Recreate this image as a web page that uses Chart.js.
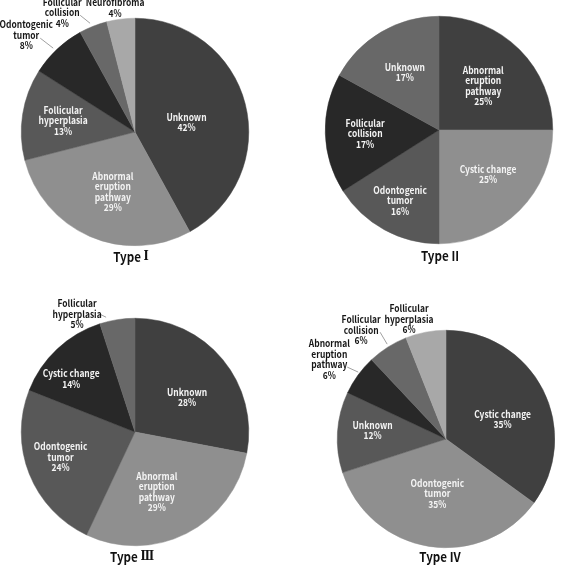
<!DOCTYPE html>
<html>
<head>
<meta charset="utf-8">
<script src="https://cdn.jsdelivr.net/npm/chart.js@4"></script>
<style>
  html, body { margin: 0; padding: 0; background: #fff; }
  body { width: 565px; height: 574px; position: relative; overflow: hidden; }
  .box { position: absolute; }
</style>
</head>
<body>
<div class="box" style="left:0;top:0;width:280px;height:287px"><canvas id="pie1"></canvas></div>
<div class="box" style="left:282px;top:0;width:283px;height:287px"><canvas id="pie2"></canvas></div>
<div class="box" style="left:0;top:287px;width:280px;height:287px"><canvas id="pie3"></canvas></div>
<div class="box" style="left:282px;top:287px;width:283px;height:287px"><canvas id="pie4"></canvas></div>
<script>
// --- data ---
const titles = ['Type \u2160', 'Type II', 'Type \u2162', 'Type IV'];

const labels1 = ['Unknown', 'Abnormal eruption pathway', 'Follicular hyperplasia', 'Odontogenic tumor', 'Follicular collision', 'Neurofibroma'];
const values1 = [42, 29, 13, 8, 4, 4];

const labels2 = ['Abnormal eruption pathway', 'Cystic change', 'Odontogenic tumor', 'Follicular collision', 'Unknown'];
const values2 = [25, 25, 16, 17, 17];

const labels3 = ['Unknown', 'Abnormal eruption pathway', 'Odontogenic tumor', 'Cystic change', 'Follicular hyperplasia'];
const values3 = [28, 29, 24, 14, 5];

const labels4 = ['Cystic change', 'Odontogenic tumor', 'Unknown', 'Abnormal eruption pathway', 'Follicular collision', 'Follicular hyperplasia'];
const values4 = [35, 35, 12, 6, 6, 6];

// line breaks used for the slice labels
const wrap = {
  'Abnormal eruption pathway': ['Abnormal', 'eruption', 'pathway'],
  'Follicular hyperplasia': ['Follicular', 'hyperplasia'],
  'Odontogenic tumor': ['Odontogenic', 'tumor'],
  'Follicular collision': ['Follicular', 'collision'],
  'Cystic change': ['Cystic change'],
  'Unknown': ['Unknown'],
  'Neurofibroma': ['Neurofibroma']
};

const palette = ['#404040', '#8f8f8f', '#585858', '#282828', '#686868', '#a8a8a8'];

// label placement: inside -> {r: radius fraction, da: angle shift in degrees}
// outside -> {x, y} in radius units from the centre, optional leader [x1, y1, x2, y2]
const layout1 = [
  { r: 0.46, da: 4 }, { r: 0.56, da: -3 }, { r: 0.64, da: 0 },
  { x: -0.956, y: -0.851, leader: [-0.833, -0.825, -0.719, -0.737] },
  { x: -0.64, y: -1.048, leader: [-0.482, -1.026, -0.395, -0.956] },
  { x: -0.175, y: -1.092 }
];
const layout2 = [
  { r: 0.55, da: 0 }, { r: 0.58, da: -3 }, { r: 0.71, da: 0 }, { r: 0.65, da: -1 }, { r: 0.59, da: 0 }
];
const layout3 = [
  { r: 0.55, da: 6 }, { r: 0.56, da: 7 }, { r: 0.69, da: 3 }, { r: 0.73, da: -7 },
  { x: -0.509, y: -1.035, leader: [-0.307, -1.035, -0.254, -1.009] }
];
const layout4 = [
  { r: 0.55, da: 8 }, { r: 0.51, da: 0 }, { r: 0.68, da: 3 },
  { x: -1.073, y: -0.734, leader: [-0.908, -0.661, -0.807, -0.615] },
  { x: -0.78, y: -1.0, leader: [-0.606, -0.982, -0.541, -0.872] },
  { x: -0.34, y: -1.101 }
];

const FONT = '"Noto Sans CJK KR", "Liberation Sans", sans-serif';
const NUMERAL_FONT = '"DejaVu Serif", "Liberation Serif", serif';

// narrow text a little, the original face is more condensed
function squeezed(ctx, t, x, y, sx) {
  ctx.save();
  ctx.translate(x, y);
  ctx.scale(sx, 1);
  ctx.fillText(t, 0, 0);
  ctx.restore();
}

const sliceLabels = {
  id: 'sliceLabels',
  afterDatasetsDraw(chart, args, opts) {
    const ctx = chart.ctx;
    const meta = chart.getDatasetMeta(0);
    const names = chart.data.labels;
    const vals = chart.data.datasets[0].data;
    const arc0 = meta.data[0];
    const cx = arc0.x, cy = arc0.y, R = arc0.outerRadius;
    ctx.save();
    ctx.textAlign = 'center';
    ctx.textBaseline = 'middle';
    meta.data.forEach((arc, i) => {
      const p = opts.layout[i];
      const lines = (wrap[names[i]] || [names[i]]).concat([vals[i] + '%']);
      let x, y, color;
      if (p.x !== undefined) {
        x = cx + p.x * R;
        y = cy + p.y * R;
        color = '#161616';
        if (p.leader) {
          ctx.strokeStyle = '#a0a0a0';
          ctx.lineWidth = 1;
          ctx.beginPath();
          ctx.moveTo(cx + p.leader[0] * R, cy + p.leader[1] * R);
          ctx.lineTo(cx + p.leader[2] * R, cy + p.leader[3] * R);
          ctx.stroke();
        }
      } else {
        const mid = (arc.startAngle + arc.endAngle) / 2 + (p.da || 0) * Math.PI / 180;
        x = cx + Math.cos(mid) * R * p.r;
        y = cy + Math.sin(mid) * R * p.r;
        color = '#f4f4f4';
      }
      ctx.fillStyle = color;
      ctx.font = 'bold 9.6px ' + FONT;
      const lh = 10.5;
      const top = y - (lines.length - 1) * lh / 2;
      lines.forEach((t, k) => squeezed(ctx, t, x, top + k * lh, 0.88));
    });

    // title under the pie; special roman numerals get a serif face
    const sx = 0.86;
    const tx = cx + opts.titleDx, ty = cy + R + opts.titleGap;
    const cut = opts.title.lastIndexOf(' ');
    const head = opts.title.slice(0, cut + 1);
    const num = opts.title.slice(cut + 1);
    const special = num.charCodeAt(0) >= 0x2160 && num.charCodeAt(0) <= 0x2188;
    ctx.fillStyle = '#111';
    ctx.textAlign = 'left';
    const headFont = 'bold 13.5px ' + FONT;
    const numFont = special ? 'bold 13px ' + NUMERAL_FONT : headFont;
    ctx.font = headFont;
    const w1 = ctx.measureText(head).width * sx;
    ctx.font = numFont;
    const w2 = ctx.measureText(num).width * sx;
    const x0 = tx - (w1 + w2) / 2;
    ctx.font = headFont;
    squeezed(ctx, head, x0, ty, sx);
    ctx.font = numFont;
    squeezed(ctx, num, x0 + w1, ty, sx);
    ctx.restore();
  }
};

function makePie(id, labels, values, layout, title, padding, titleDx, titleGap) {
  new Chart(document.getElementById(id), {
    type: 'pie',
    data: {
      labels: labels,
      datasets: [{
        data: values,
        backgroundColor: palette.slice(0, values.length),
        borderColor: palette.slice(0, values.length),
        borderWidth: 0.5
      }]
    },
    options: {
      responsive: true,
      maintainAspectRatio: false,
      animation: false,
      layout: { padding: padding },
      plugins: {
        legend: { display: false },
        tooltip: { enabled: false },
        sliceLabels: { layout: layout, title: title, titleDx: titleDx, titleGap: titleGap }
      }
    },
    plugins: [sliceLabels]
  });
}

makePie('pie1', labels1, values1, layout1, titles[0], { left: 21, right: 31, top: 18, bottom: 41 }, -4, 11);
makePie('pie2', labels2, values2, layout2, titles[1], { left: 43, right: 12, top: 16, bottom: 43 }, 1, 12);
makePie('pie3', labels3, values3, layout3, titles[2], { left: 21, right: 31, top: 31, bottom: 28 }, -3, 11);
makePie('pie4', labels4, values4, layout4, titles[3], { left: 55, right: 10, top: 43, bottom: 26 }, -6, 9);
</script>
</body>
</html>
